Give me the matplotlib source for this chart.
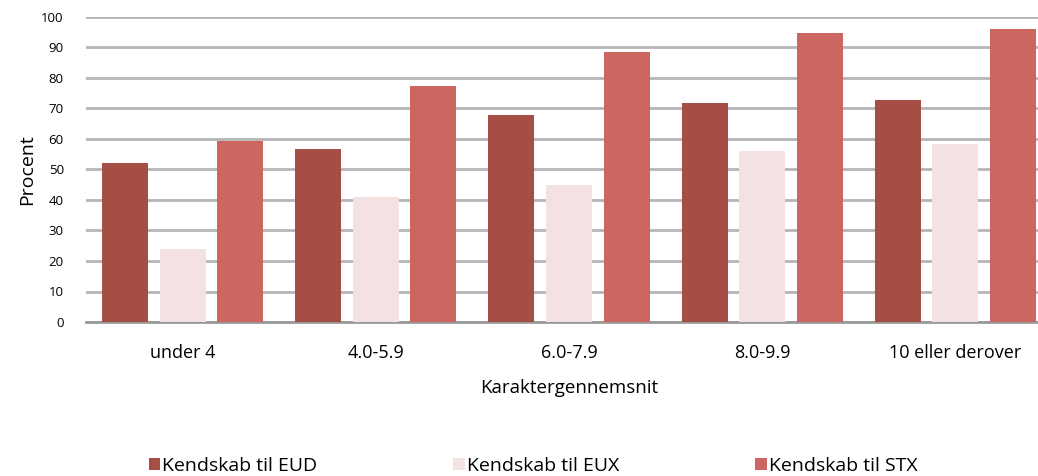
import matplotlib.pyplot as plt
import numpy as np
from matplotlib.patches import Patch

categories = ['under 4', '4.0-5.9', '6.0-7.9', '8.0-9.9', '10 eller derover']
series_names = ['Kendskab til EUD', 'Kendskab til EUX', 'Kendskab til STX']
eud = [52.1, 56.8, 68.0, 71.9, 72.8]
eux = [23.9, 41.1, 45.0, 56.1, 58.4]
stx = [59.3, 77.4, 88.4, 94.7, 96.1]
colors = ['#A64D45', '#F4E1E1', '#CC6660']

plt.rcParams['font.family'] = ['Open Sans', 'DejaVu Sans']

fig = plt.figure(figsize=(10.38, 4.76), dpi=100)
ax = fig.add_axes([86 / 1038, 154 / 476, 966 / 1038, 305 / 476])

x = np.arange(len(categories))
w = 0.238
step = 0.298
for i, (vals, col) in enumerate(zip([eud, eux, stx], colors)):
    ax.bar(x + (i - 1) * step, vals, width=w, color=col, zorder=3)

ax.set_xlim(-0.5, len(categories) - 0.5)
ax.set_ylim(0, 100)
ax.set_yticks(range(0, 101, 10))
ax.tick_params(axis='y', length=0, labelsize=9.5, pad=16)
ax.tick_params(axis='x', length=0, labelsize=13, pad=16)
ax.set_xticks(x)
ax.set_xticklabels(categories)
ax.yaxis.grid(True, color='#B5B5B5', lw=2, zorder=0)
for s in ['top', 'right', 'left']:
    ax.spines[s].set_visible(False)
ax.spines['bottom'].set_color('#999999')
ax.spines['bottom'].set_linewidth(2)
ax.set_ylabel('Procent', fontsize=14, labelpad=4)
ax.set_xlabel('Karaktergennemsnit', fontsize=13.5, labelpad=12)

handles = [Patch(facecolor=c, edgecolor='none') for c in colors]
fig.legend(handles, series_names, loc='lower left', bbox_to_anchor=(131 / 1038, -0.035),
           ncol=3, frameon=False, fontsize=14, handlelength=0.6, handleheight=0.6,
           handletextpad=0.1, columnspacing=7.0)

fig.savefig('out.png', dpi=100)
